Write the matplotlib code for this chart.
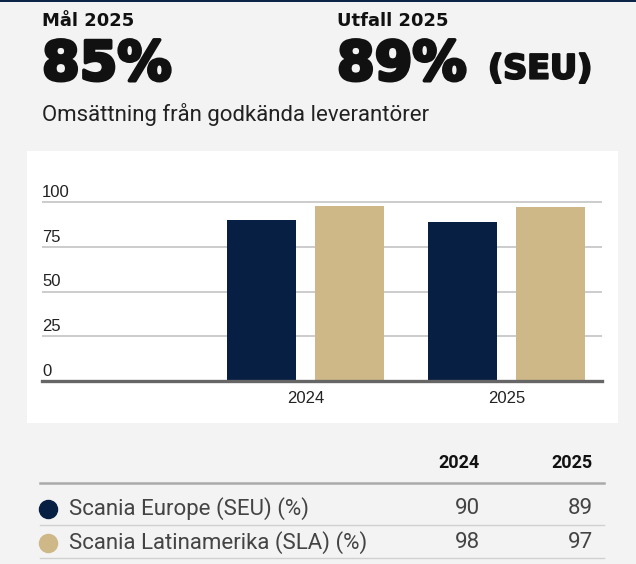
import matplotlib.pyplot as plt
import matplotlib.patheffects as pe
from matplotlib.patches import Rectangle

# data
years = ['2024', '2025']
seu = [90, 89]
sla = [98, 97]
rows = ['Scania Europe (SEU) (%)', 'Scania Latinamerika (SLA) (%)']
yticks = [0, 25, 50, 75, 100]

navy = '#061f42'
gold = '#cfb887'
bg = '#f3f3f3'

W, H = 636, 564
fig = plt.figure(figsize=(W / 100, H / 100), dpi=100, facecolor=bg)

def fx(px):
    return px / W

def fy(py):
    return 1 - py / H

# top rule
fig.add_artist(Rectangle((0, fy(2)), 1, 2 / H, transform=fig.transFigure,
                         color='#0b2447', lw=0))

# header
hfont = 'DejaVu Sans'
thick = [pe.withStroke(linewidth=2.5, foreground='#111')]
fig.text(fx(42), fy(21), 'Mål 2025', fontsize=13, fontweight='bold', family=hfont,
         va='center', color='#111')
fig.text(fx(337), fy(21), 'Utfall 2025', fontsize=13, fontweight='bold', family=hfont,
         va='center', color='#111')
fig.text(fx(42), fy(65), '85%', fontsize=39, fontweight='bold', family=hfont,
         va='center', color='#111', path_effects=thick)
fig.text(fx(337), fy(65), '89%', fontsize=39, fontweight='bold', family=hfont,
         va='center', color='#111', path_effects=thick)
fig.text(fx(488), fy(69), '(SEU)', fontsize=24, fontweight='bold', family=hfont,
         va='center', color='#111', path_effects=[pe.withStroke(linewidth=1.6, foreground='#111')])
fig.text(fx(42), fy(114), 'Omsättning från godkända leverantörer', fontsize=16,
         family='Roboto', va='center', color='#222')

# white chart panel
fig.add_artist(Rectangle((fx(27), fy(423)), (618 - 27) / W, (423 - 151) / H,
                         transform=fig.transFigure, color='white', lw=0, zorder=0))

ax = fig.add_axes([fx(42), fy(381), (602 - 42) / W, (381 - 180) / H])
ax.set_facecolor('none')
x = [0, 1]
off = 0.219
bw = 0.343
ax.bar([i - off for i in x], seu, width=bw, color=navy, zorder=3)
ax.bar([i + off for i in x], sla, width=bw, color=gold, zorder=3)
ax.set_xlim(-1.311, 1.475)
ax.set_ylim(0, 112.3)
for v in yticks[1:]:
    ax.axhline(v, color='#c4c4c4', lw=1.2, zorder=1)
ax.axhline(0, color='#666666', lw=2.4, zorder=4, clip_on=False)
for v in yticks:
    ax.text(0, v + 1.2, str(v), transform=ax.get_yaxis_transform(),
            fontsize=12, family='Liberation Sans', color='#222', va='bottom', ha='left')
ax.set_xticks(x)
ax.set_xticklabels(years, fontsize=12, family='Liberation Sans', color='#222')
ax.tick_params(axis='x', length=0, pad=7)
ax.set_yticks([])
for s in ax.spines.values():
    s.set_visible(False)

# table
tfont = 'Roboto'
cols_x = [480, 593]
for cx, yr in zip(cols_x, years):
    fig.text(fx(cx), fy(463), yr, fontsize=13, fontweight='bold', family=tfont,
             ha='right', va='center', color='#111')
fig.add_artist(plt.Line2D([fx(40), fx(604)], [fy(483), fy(483)], color='#aaaaaa', lw=1.8))
row_y = [509, 543]
line_y = [525, 558]
vals = [seu, sla]
for i, (ry, ly, name, col) in enumerate(zip(row_y, line_y, rows, [navy, gold])):
    fig.add_artist(plt.Line2D([fx(48)], [fy(ry)], marker='o', markersize=13,
                              color=col, lw=0))
    fig.text(fx(69), fy(ry), name, fontsize=16, family=tfont, va='center', color='#444')
    for cx, j in zip(cols_x, range(2)):
        fig.text(fx(cx), fy(ry), str(vals[i][j]), fontsize=16, family=tfont, ha='right',
                 va='center', color='#444')
    fig.add_artist(plt.Line2D([fx(40), fx(604)], [fy(ly), fy(ly)], color='#d0d0d0', lw=1))

fig.savefig('out.png', dpi=100, facecolor=bg)
